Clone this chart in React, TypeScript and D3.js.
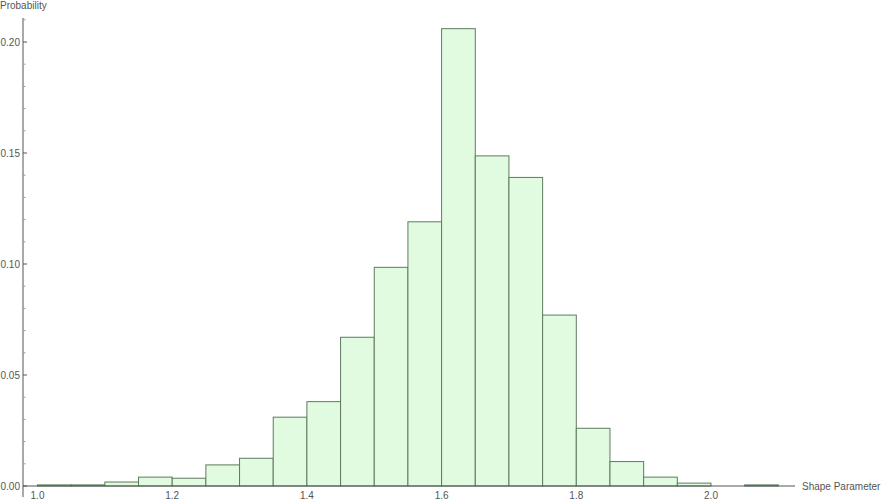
import React, { useEffect, useRef } from "react";
import * as d3 from "d3";

// bin edges (left) and probabilities
const binStarts = [1.0, 1.05, 1.1, 1.15, 1.2, 1.25, 1.3, 1.35, 1.4, 1.45, 1.5, 1.55, 1.6, 1.65, 1.7, 1.75, 1.8, 1.85, 1.9, 1.95, 2.0, 2.05];
const probs = [0.0005, 0.0005, 0.0018, 0.004, 0.0035, 0.0095, 0.0125, 0.031, 0.038, 0.067, 0.0985, 0.119, 0.206, 0.1487, 0.139, 0.077, 0.026, 0.011, 0.004, 0.0013, 0, 0.0005];
const binWidth = 0.05;
const xTicks = [1.0, 1.2, 1.4, 1.6, 1.8, 2.0];
const yTicks = [0, 0.05, 0.1, 0.15, 0.2];

const W = 881;
const H = 503;

const Histogram = () => {
  const ref = useRef<SVGSVGElement>(null);

  useEffect(() => {
    const svg = d3.select(ref.current);
    svg.selectAll("*").remove();

    const x = d3.scaleLinear().domain([1.0, 2.0]).range([37.5, 711]);
    const y = d3.scaleLinear().domain([0, 0.2]).range([486, 42]);
    const axisColor = "#555";
    const font = "Liberation Sans, Arial, sans-serif";

    // bars
    svg
      .append("g")
      .selectAll("rect")
      .data(binStarts.map((b, i) => ({ b, p: probs[i] })).filter((d) => d.p > 0))
      .enter()
      .append("rect")
      .attr("x", (d) => x(d.b))
      .attr("width", (d) => x(d.b + binWidth) - x(d.b))
      .attr("y", (d) => y(d.p))
      .attr("height", (d) => y(0) - y(d.p))
      .attr("fill", "#e0fbe0")
      .attr("stroke", "#5f7a5f")
      .attr("stroke-width", 1);

    // x axis
    svg
      .append("line")
      .attr("x1", 23)
      .attr("x2", 795)
      .attr("y1", y(0))
      .attr("y2", y(0))
      .attr("stroke", axisColor);

    svg
      .append("g")
      .selectAll("text")
      .data(xTicks)
      .enter()
      .append("text")
      .attr("x", (d) => x(d))
      .attr("y", 499)
      .attr("text-anchor", "middle")
      .attr("font-family", font)
      .attr("font-size", 10)
      .attr("fill", axisColor)
      .text((d) => d3.format(".1f")(d));

    svg
      .append("text")
      .attr("x", 802)
      .attr("y", 490)
      .attr("font-family", font)
      .attr("font-size", 10)
      .attr("fill", axisColor)
      .text("Shape Parameter");

    // y axis
    svg
      .append("line")
      .attr("x1", 23)
      .attr("x2", 23)
      .attr("y1", 18)
      .attr("y2", 497)
      .attr("stroke", axisColor);

    const minor = d3.range(0, 0.221, 0.01).filter((v) => Math.round(v * 100) % 5 !== 0);
    svg
      .append("g")
      .selectAll("line")
      .data(minor)
      .enter()
      .append("line")
      .attr("x1", 23)
      .attr("x2", 25.5)
      .attr("y1", (d) => y(d))
      .attr("y2", (d) => y(d))
      .attr("stroke", "#999");

    svg
      .append("g")
      .selectAll("line")
      .data(yTicks)
      .enter()
      .append("line")
      .attr("x1", 23)
      .attr("x2", 27)
      .attr("y1", (d) => y(d))
      .attr("y2", (d) => y(d))
      .attr("stroke", axisColor);

    svg
      .append("g")
      .selectAll("text")
      .data(yTicks)
      .enter()
      .append("text")
      .attr("x", 20)
      .attr("y", (d) => y(d) + 3.5)
      .attr("text-anchor", "end")
      .attr("font-family", font)
      .attr("font-size", 10)
      .attr("fill", axisColor)
      .text((d) => d3.format(".2f")(d));

    svg
      .append("text")
      .attr("x", 0)
      .attr("y", 9)
      .attr("font-family", font)
      .attr("font-size", 10)
      .attr("fill", axisColor)
      .text("Probability");
  }, []);

  return <svg ref={ref} width={W} height={H} style={{ display: "block" }} />;
};

export default function App() {
  return (
    <div style={{ position: "fixed", left: 0, top: 0, width: W, height: H, background: "#fff" }}>
      <Histogram />
    </div>
  );
}
